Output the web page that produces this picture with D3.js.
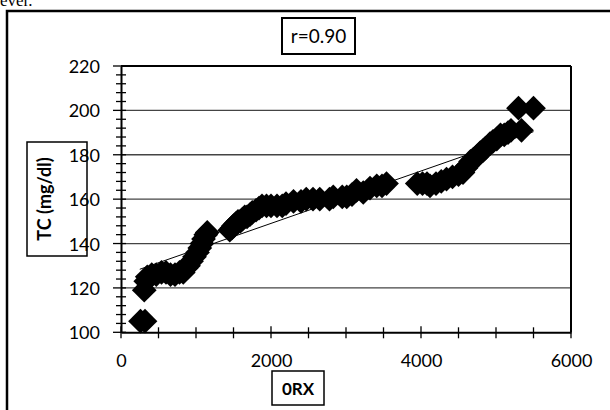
<!DOCTYPE html>
<html>
<head>
<meta charset="utf-8">
<script src="https://cdn.jsdelivr.net/npm/d3@7"></script>
<style>
  html, body { margin: 0; padding: 0; background: #fff; }
  svg { display: block; }
</style>
</head>
<body>
<svg id="chart" width="610" height="410"></svg>
<script>
// ---- data ----
const orx = [260, 320, 310, 330, 350, 410, 470, 540, 600, 660, 720, 780, 830, 870, 900, 940, 980, 1020, 1050, 1080, 1100, 1130, 1150,
  1450, 1480, 1500, 1530, 1560, 1590, 1620, 1650, 1680, 1720, 1750, 1800, 1840, 1880, 1940, 2000, 2080, 2150, 2200, 2300, 2400, 2470, 2560, 2650, 2780, 2830, 2950, 3010, 3080, 3140, 3230, 3320, 3410, 3480, 3540,
  3950, 4020, 4080, 4120, 4200, 4270, 4340, 4420, 4500, 4560, 4600, 4620, 4660, 4700, 4740, 4790, 4830, 4860, 4920, 4960, 5010, 5060, 5110, 5160, 5200, 5340, 5300, 5500];
const tc = [105, 105, 119, 123, 125, 126, 126, 127, 127, 126, 126, 127, 127, 129, 130, 132, 134, 136, 138, 140, 142, 144, 145,
  146, 147, 148, 149, 150, 150, 151, 152, 152, 153, 154, 155, 156, 157, 157, 157, 157, 157, 158, 159, 159, 160, 160, 160, 160, 161, 161, 161, 162, 164, 163, 165, 166, 166, 167,
  167, 167, 167, 166, 167, 168, 169, 170, 171, 172, 174, 175, 177, 178, 179, 181, 182, 183, 185, 186, 187, 189, 189, 190, 191, 191, 201, 201];
const trendX = [250, 5500];
const trendY = [128.4, 190.4];
const xTicks = [0, 2000, 4000, 6000];
const yTicks = [100, 120, 140, 160, 180, 200, 220];
const corrLabel = "r=0.90";
const xTitle = "0RX";
const yTitle = "TC (mg/dl)";

// ---- layout ----
const svg = d3.select("#chart");
const L = 121, R = 571, T = 66, B = 332.3;
const x = d3.scaleLinear().domain([0, 6000]).range([L, R]);
const y = d3.scaleLinear().domain([100, 220]).range([B, T]);
const font = "Lato, 'Open Sans', sans-serif";

// stray text from page above
svg.append("text").attr("x", 0).attr("y", 6)
  .attr("font-family", "'Liberation Serif', 'Times New Roman', serif")
  .attr("font-size", 17).text("ever.");

// outer frame
svg.append("rect").attr("x", 7).attr("y", 11).attr("width", 620).attr("height", 420)
  .attr("fill", "none").attr("stroke", "#000").attr("stroke-width", 2.5);

// gridlines
svg.append("g").selectAll("line").data(yTicks.filter(d => d > 100 && d < 220)).join("line")
  .attr("x1", L).attr("x2", R).attr("y1", d => y(d)).attr("y2", d => y(d))
  .attr("stroke", "#444").attr("stroke-width", 1.3);

// plot border top / right
svg.append("line").attr("x1", L).attr("x2", R).attr("y1", T).attr("y2", T).attr("stroke", "#000").attr("stroke-width", 2);
svg.append("line").attr("x1", R).attr("x2", R).attr("y1", T).attr("y2", B).attr("stroke", "#000").attr("stroke-width", 2);

// x axis
const xAxis = d3.axisBottom(x).tickValues(xTicks).tickSize(0).tickPadding(0).tickFormat(d3.format("d"));
const gx = svg.append("g").attr("transform", `translate(0,${B})`).call(xAxis);
gx.select(".domain").attr("stroke", "#000").attr("stroke-width", 2);
gx.selectAll("text").attr("font-family", font).attr("font-size", 18).attr("fill", "#000")
  .attr("dy", null).attr("y", 35);
gx.selectAll(".tick line").remove();
svg.append("g").selectAll("line").data(d3.range(0, 6001, 500)).join("line")
  .attr("x1", d => x(d)).attr("x2", d => x(d))
  .attr("y1", d => B - (d % 2000 === 0 ? 6 : 5)).attr("y2", d => B + 6)
  .attr("stroke", "#000").attr("stroke-width", 1.3);

// y axis
const yAxis = d3.axisLeft(y).tickValues(yTicks).tickSize(0).tickPadding(0);
const gy = svg.append("g").attr("transform", `translate(${L},0)`).call(yAxis);
gy.select(".domain").attr("stroke", "#000").attr("stroke-width", 2);
gy.selectAll("text").attr("font-family", font).attr("font-size", 18).attr("fill", "#000")
  .attr("x", -21).attr("dy", "0.36em");
gy.selectAll(".tick line").remove();
svg.append("g").selectAll("line").data(d3.range(100, 221, 4)).join("line")
  .attr("x1", d => L - (d % 20 === 0 ? 8 : 5)).attr("x2", d => L + 5)
  .attr("y1", d => y(d)).attr("y2", d => y(d))
  .attr("stroke", "#000").attr("stroke-width", 1.3);

// markers
const diamond = d3.symbol().type(d3.symbolDiamond2).size(390);
svg.append("g").selectAll("path").data(orx.map((d, i) => [d, tc[i]])).join("path")
  .attr("d", diamond)
  .attr("transform", d => `translate(${x(d[0])},${y(d[1])})`)
  .attr("fill", "#000");

// trend line
svg.append("line")
  .attr("x1", x(trendX[0])).attr("y1", y(trendY[0]))
  .attr("x2", x(trendX[1])).attr("y2", y(trendY[1]))
  .attr("stroke", "#000").attr("stroke-width", 1);

// r label box
svg.append("rect").attr("x", 282).attr("y", 18).attr("width", 73).attr("height", 36)
  .attr("fill", "#fff").attr("stroke", "#000").attr("stroke-width", 2);
svg.append("text").attr("x", 318.5).attr("y", 43).attr("text-anchor", "middle")
  .attr("font-family", font).attr("font-size", 19).text(corrLabel);

// y title box
svg.append("rect").attr("x", 27).attr("y", 142).attr("width", 60).attr("height", 114)
  .attr("fill", "none").attr("stroke", "#000").attr("stroke-width", 1.5);
svg.append("text").attr("transform", "translate(51,199) rotate(-90)").attr("text-anchor", "middle")
  .attr("font-family", font).attr("font-size", 18).attr("font-weight", "bold").text(yTitle);

// x title box
svg.append("rect").attr("x", 272).attr("y", 371).attr("width", 52).attr("height", 34)
  .attr("fill", "#fff").attr("stroke", "#000").attr("stroke-width", 1.5);
svg.append("text").attr("x", 298).attr("y", 395).attr("text-anchor", "middle")
  .attr("font-family", font).attr("font-size", 17).attr("font-weight", "bold").text(xTitle);
</script>
</body>
</html>
